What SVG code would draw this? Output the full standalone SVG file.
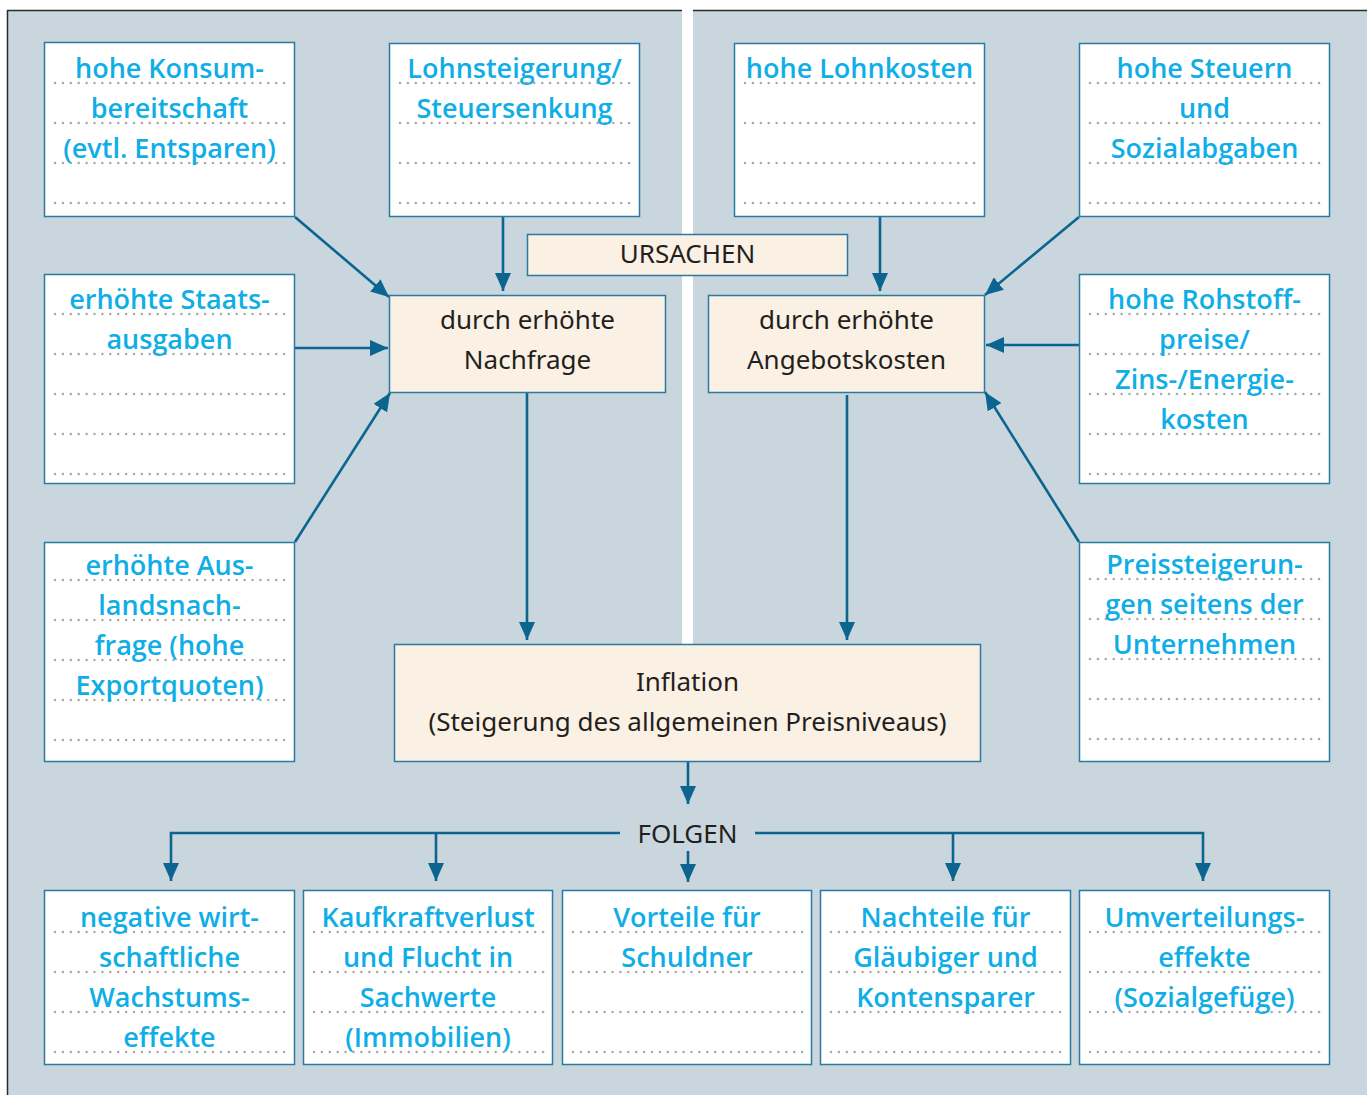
<svg xmlns="http://www.w3.org/2000/svg" width="1367" height="1095" viewBox="0 0 1367 1095">
<defs>
<style>
.bg{fill:#c9d6dd}
.wbox{fill:#ffffff;stroke:#2a7aa2;stroke-width:1.5}
.cbox{fill:#faf0e3;stroke:#2a7aa2;stroke-width:1.5}
.dot{stroke:#a8a8a8;stroke-width:2.5;stroke-linecap:round;stroke-dasharray:0 7.9;fill:none}
.hw{font-family:"Open Sans","Noto Sans",sans-serif;font-weight:600;font-size:27px;fill:#10aee6;text-anchor:middle}
.dk{font-family:"Noto Sans","Open Sans",sans-serif;font-size:26px;fill:#231f20;text-anchor:middle}
.con{stroke:#0b6590;stroke-width:2.6;fill:none}
</style>
<marker id="ah" markerUnits="userSpaceOnUse" markerWidth="20" markerHeight="16" refX="18" refY="8" orient="auto">
<path d="M0,0 L18,8 L0,16 Z" fill="#0b6590"/>
</marker>
</defs>

<rect class="bg" x="7" y="10" width="1360" height="1085"/>
<rect x="682" y="0" width="11" height="644" fill="#ffffff"/>
<line x1="7" y1="10.5" x2="682" y2="10.5" stroke="#2b2b2b" stroke-width="1.5"/>
<line x1="693" y1="10.5" x2="1367" y2="10.5" stroke="#2b2b2b" stroke-width="1.5"/>
<line x1="7.5" y1="10" x2="7.5" y2="1095" stroke="#2b2b2b" stroke-width="1.5"/>

<g id="connectors">
<line class="con" x1="295" y1="217" x2="389" y2="297" marker-end="url(#ah)"/>
<line class="con" x1="503" y1="217" x2="503" y2="291" marker-end="url(#ah)"/>
<line class="con" x1="295" y1="348" x2="388" y2="348" marker-end="url(#ah)"/>
<line class="con" x1="295" y1="542" x2="390" y2="393" marker-end="url(#ah)"/>
<line class="con" x1="880" y1="217" x2="880" y2="291" marker-end="url(#ah)"/>
<line class="con" x1="1079" y1="217" x2="985" y2="295" marker-end="url(#ah)"/>
<line class="con" x1="1079" y1="345" x2="986" y2="345" marker-end="url(#ah)"/>
<line class="con" x1="1079" y1="542" x2="985" y2="392" marker-end="url(#ah)"/>
<line class="con" x1="527" y1="393" x2="527" y2="640" marker-end="url(#ah)"/>
<line class="con" x1="847" y1="395" x2="847" y2="640" marker-end="url(#ah)"/>
<line class="con" x1="688" y1="762" x2="688" y2="804" marker-end="url(#ah)"/>
<polyline class="con" points="620,833 171,833 171,881" marker-end="url(#ah)"/>
<line class="con" x1="436" y1="833" x2="436" y2="881" marker-end="url(#ah)"/>
<line class="con" x1="688" y1="851" x2="688" y2="882" marker-end="url(#ah)"/>
<polyline class="con" points="755,833 1203,833 1203,881" marker-end="url(#ah)"/>
<line class="con" x1="953" y1="833" x2="953" y2="881" marker-end="url(#ah)"/>
</g>

<g id="n-konsum">
<rect class="wbox" x="44.5" y="42.5" width="250" height="174"/>
<path class="dot" d="M55,83H286M55,123H286M55,163H286M55,203H286"/>
<text class="hw" x="169.5" y="78">hohe Konsum-</text>
<text class="hw" x="169.5" y="118">bereitschaft</text>
<text class="hw" x="169.5" y="158">(evtl. Entsparen)</text>
</g>

<g id="n-lohnsteigerung">
<rect class="wbox" x="389.5" y="43.5" width="250" height="173"/>
<path class="dot" d="M400,83H631M400,123H631M400,163H631M400,203H631"/>
<text class="hw" x="514.5" y="78">Lohnsteigerung/</text>
<text class="hw" x="514.5" y="118">Steuersenkung</text>
</g>

<g id="n-lohnkosten">
<rect class="wbox" x="734.5" y="43.5" width="250" height="173"/>
<path class="dot" d="M745,83H976M745,123H976M745,163H976M745,203H976"/>
<text class="hw" x="859.5" y="78">hohe Lohnkosten</text>
</g>

<g id="n-steuern">
<rect class="wbox" x="1079.5" y="43.5" width="250" height="173"/>
<path class="dot" d="M1090,83H1321M1090,123H1321M1090,163H1321M1090,203H1321"/>
<text class="hw" x="1204.5" y="78">hohe Steuern</text>
<text class="hw" x="1204.5" y="118">und</text>
<text class="hw" x="1204.5" y="158">Sozialabgaben</text>
</g>

<g id="n-staats">
<rect class="wbox" x="44.5" y="274.5" width="250" height="209"/>
<path class="dot" d="M55,314H286M55,354H286M55,394H286M55,434H286M55,474H286"/>
<text class="hw" x="169.5" y="309">erhöhte Staats-</text>
<text class="hw" x="169.5" y="349">ausgaben</text>
</g>

<g id="n-rohstoff">
<rect class="wbox" x="1079.5" y="274.5" width="250" height="209"/>
<path class="dot" d="M1090,314H1321M1090,354H1321M1090,394H1321M1090,434H1321M1090,474H1321"/>
<text class="hw" x="1204.5" y="309">hohe Rohstoff-</text>
<text class="hw" x="1204.5" y="349">preise/</text>
<text class="hw" x="1204.5" y="389">Zins-/Energie-</text>
<text class="hw" x="1204.5" y="429">kosten</text>
</g>

<g id="n-ausland">
<rect class="wbox" x="44.5" y="542.5" width="250" height="219"/>
<path class="dot" d="M55,580H286M55,620H286M55,660H286M55,700H286M55,740H286"/>
<text class="hw" x="169.5" y="575">erhöhte Aus-</text>
<text class="hw" x="169.5" y="615">landsnach-</text>
<text class="hw" x="169.5" y="655">frage (hohe</text>
<text class="hw" x="169.5" y="695">Exportquoten)</text>
</g>

<g id="n-preis">
<rect class="wbox" x="1079.5" y="542.5" width="250" height="219"/>
<path class="dot" d="M1090,579H1321M1090,619H1321M1090,659H1321M1090,699H1321M1090,739H1321"/>
<text class="hw" x="1204.5" y="574">Preissteigerun-</text>
<text class="hw" x="1204.5" y="614">gen seitens der</text>
<text class="hw" x="1204.5" y="654">Unternehmen</text>
</g>

<g id="n-ursachen">
<rect class="cbox" x="527.5" y="234.5" width="320" height="41"/>
<text class="dk" x="687.5" y="263">URSACHEN</text>
</g>

<g id="n-nachfrage">
<rect class="cbox" x="389.5" y="295.5" width="276" height="97"/>
<text class="dk" x="527.5" y="329">durch erhöhte</text>
<text class="dk" x="527.5" y="369">Nachfrage</text>
</g>

<g id="n-angebot">
<rect class="cbox" x="708.5" y="295.5" width="276" height="97"/>
<text class="dk" x="846.5" y="329">durch erhöhte</text>
<text class="dk" x="846.5" y="369">Angebotskosten</text>
</g>

<g id="n-inflation">
<rect class="cbox" x="394.5" y="644.5" width="586" height="117"/>
<text class="dk" x="687.5" y="691">Inflation</text>
<text class="dk" x="687.5" y="731">(Steigerung des allgemeinen Preisniveaus)</text>
</g>

<g id="n-folgen">
<text class="dk" x="687.5" y="843">FOLGEN</text>
</g>

<g id="n-wachstum">
<rect class="wbox" x="44.5" y="890.5" width="250" height="174"/>
<path class="dot" d="M55,932H286M55,972H286M55,1012H286M55,1052H286"/>
<text class="hw" x="169.5" y="927">negative wirt-</text>
<text class="hw" x="169.5" y="967">schaftliche</text>
<text class="hw" x="169.5" y="1007">Wachstums-</text>
<text class="hw" x="169.5" y="1047">effekte</text>
</g>

<g id="n-kaufkraft">
<rect class="wbox" x="303.5" y="890.5" width="249" height="174"/>
<path class="dot" d="M314,932H545M314,972H545M314,1012H545M314,1052H545"/>
<text class="hw" x="428" y="927">Kaufkraftverlust</text>
<text class="hw" x="428" y="967">und Flucht in</text>
<text class="hw" x="428" y="1007">Sachwerte</text>
<text class="hw" x="428" y="1047">(Immobilien)</text>
</g>

<g id="n-schuldner">
<rect class="wbox" x="562.5" y="890.5" width="249" height="174"/>
<path class="dot" d="M573,932H804M573,972H804M573,1012H804M573,1052H804"/>
<text class="hw" x="687" y="927">Vorteile für</text>
<text class="hw" x="687" y="967">Schuldner</text>
</g>

<g id="n-glaeubiger">
<rect class="wbox" x="820.5" y="890.5" width="250" height="174"/>
<path class="dot" d="M831,932H1062M831,972H1062M831,1012H1062M831,1052H1062"/>
<text class="hw" x="945.5" y="927">Nachteile für</text>
<text class="hw" x="945.5" y="967">Gläubiger und</text>
<text class="hw" x="945.5" y="1007">Kontensparer</text>
</g>

<g id="n-umverteilung">
<rect class="wbox" x="1079.5" y="890.5" width="250" height="174"/>
<path class="dot" d="M1090,932H1321M1090,972H1321M1090,1012H1321M1090,1052H1321"/>
<text class="hw" x="1204.5" y="927">Umverteilungs-</text>
<text class="hw" x="1204.5" y="967">effekte</text>
<text class="hw" x="1204.5" y="1007">(Sozialgefüge)</text>
</g>
</svg>
